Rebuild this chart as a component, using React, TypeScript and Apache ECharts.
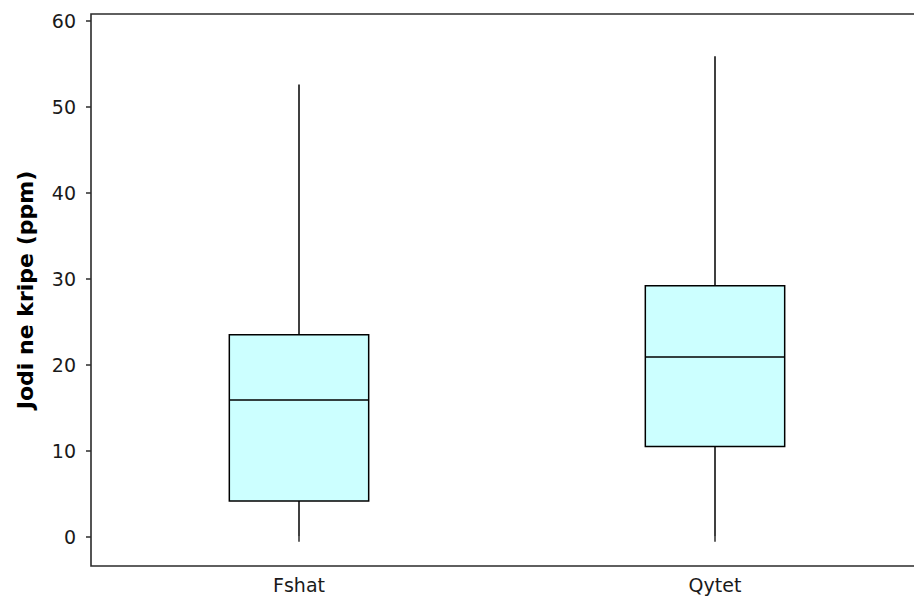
import React, { useEffect, useRef } from "react";
import * as echarts from "echarts";

const categories = ["Fshat", "Qytet"];
// [min, Q1, median, Q3, max]
const boxFshat = [0, 4.15, 15.9, 23.5, 52.6];
const boxQytet = [0, 10.5, 20.9, 29.2, 55.9];
const yTicks = [0, 10, 20, 30, 40, 50, 60];
const yAxisName = "Jodi ne kripe (ppm)";

export default function App() {
  const ref = useRef<HTMLDivElement>(null);
  useEffect(() => {
    if (!ref.current) return;
    const chart = echarts.init(ref.current, undefined, { renderer: "svg" });
    const data = [
      [0, ...boxFshat],
      [1, ...boxQytet],
    ];
    const font = "DejaVu Sans";
    chart.setOption({
      animation: false,
      backgroundColor: "#ffffff",
      grid: {
        left: 91,
        right: 9,
        top: 14,
        bottom: 37,
        show: true,
        borderColor: "#2b2b2b",
        borderWidth: 1.6,
      },
      xAxis: {
        type: "category",
        data: categories,
        boundaryGap: true,
        axisLine: { show: false },
        axisTick: {
          show: true,
          alignWithLabel: true,
          length: 5,
          lineStyle: { color: "#2b2b2b", width: 1.5 },
        },
        axisLabel: {
          fontFamily: font,
          fontSize: 19,
          color: "#1a1a1a",
          margin: 9,
        },
        splitLine: { show: false },
      },
      yAxis: {
        type: "value",
        min: -3.4,
        max: 60.8,
        name: yAxisName,
        nameLocation: "middle",
        nameGap: 55,
        nameTextStyle: {
          fontFamily: font,
          fontSize: 22,
          fontWeight: "bold",
          color: "#000",
        },
        axisLine: { show: false },
        axisTick: {
          show: true,
          length: 5,
          customValues: yTicks,
          lineStyle: { color: "#2b2b2b", width: 1.5 },
        },
        axisLabel: {
          customValues: yTicks,
          fontFamily: font,
          fontSize: 19,
          color: "#1a1a1a",
          margin: 15,
        },
        splitLine: { show: false },
      },
      series: [
        {
          type: "custom",
          data,
          encode: { x: 0, y: [1, 2, 3, 4, 5] },
          renderItem: (params: any, api: any) => {
            const xi = api.value(0);
            const vals = [1, 2, 3, 4, 5].map((i) => api.value(i));
            const pts = vals.map((v: number) => api.coord([xi, v]));
            const bw = api.size([1, 0])[0] * 0.335;
            const cx = pts[0][0];
            const stroke = { stroke: "#000", lineWidth: 1.5 };
            return {
              type: "group",
              children: [
                {
                  type: "line",
                  shape: { x1: cx, y1: pts[0][1], x2: cx, y2: pts[1][1] },
                  style: stroke,
                },
                {
                  type: "line",
                  shape: { x1: cx, y1: pts[3][1], x2: cx, y2: pts[4][1] },
                  style: stroke,
                },
                {
                  type: "rect",
                  shape: {
                    x: cx - bw / 2,
                    y: pts[3][1],
                    width: bw,
                    height: pts[1][1] - pts[3][1],
                  },
                  style: { fill: "#ccffff", stroke: "#000", lineWidth: 1.5 },
                },
                {
                  type: "line",
                  shape: { x1: cx - bw / 2, y1: pts[2][1], x2: cx + bw / 2, y2: pts[2][1] },
                  style: stroke,
                },
              ],
            };
          },
        },
      ],
    });
    return () => chart.dispose();
  }, []);
  return (
    <div
      style={{
        position: "fixed",
        left: 0,
        top: 0,
        width: 914,
        height: 603,
        overflow: "hidden",
        background: "#fff",
      }}
    >
      <div ref={ref} style={{ width: 932, height: 603 }} />
    </div>
  );
}
